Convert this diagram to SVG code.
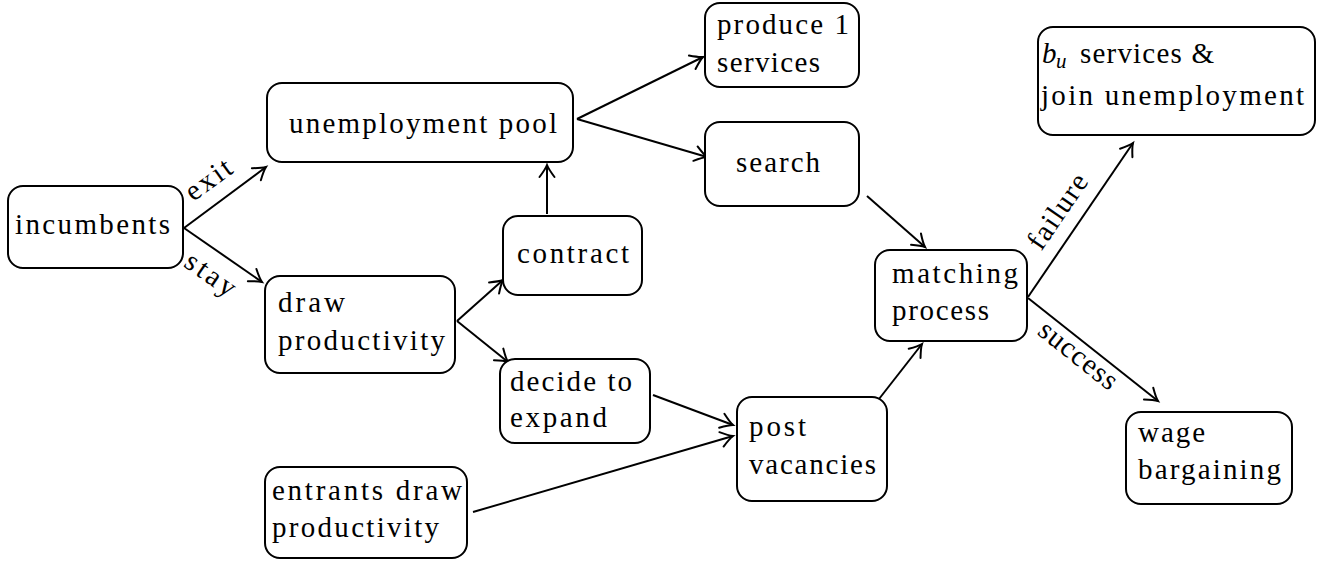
<svg xmlns="http://www.w3.org/2000/svg" width="1331" height="562" viewBox="0 0 1331 562" font-family="Liberation Serif, DejaVu Serif, serif">
<style>
text{font-family:"Liberation Serif","DejaVu Serif",serif}
.t{font-size:29px;fill:#000}
.box{fill:#fff;stroke:#000;stroke-width:2}
.e{stroke:#000;stroke-width:2;fill:none;marker-end:url(#arr)}
</style>
<defs>
<marker id="arr" markerUnits="userSpaceOnUse" markerWidth="20" markerHeight="20" viewBox="-15 -10 20 20" refX="0" refY="0" orient="auto" overflow="visible">
<path d="M-12,-7.5 Q-4,-1.5 0,0 Q-4,1.5 -12,7.5" fill="none" stroke="#000" stroke-width="2" stroke-linecap="round"/>
</marker>
</defs>
<rect width="1331" height="562" fill="#fff"/>
<g id="connectors">
<line class="e" x1="184" y1="228" x2="266" y2="167"/>
<line class="e" x1="184" y1="228" x2="262" y2="282"/>
<line class="e" x1="577" y1="119" x2="703" y2="57"/>
<line class="e" x1="577" y1="119" x2="707" y2="157"/>
<line class="e" x1="547" y1="214" x2="547" y2="165"/>
<line class="e" x1="457" y1="321" x2="503" y2="280"/>
<line class="e" x1="457" y1="321" x2="508" y2="362"/>
<line class="e" x1="867" y1="196" x2="925" y2="247"/>
<line class="e" x1="653" y1="395" x2="733" y2="425"/>
<line class="e" x1="473" y1="512" x2="733" y2="436"/>
<line class="e" x1="879" y1="399" x2="922" y2="344"/>
<line class="e" x1="1028" y1="297" x2="1133" y2="143"/>
<line class="e" x1="1028" y1="298" x2="1158" y2="401"/>
<text class="t" transform="translate(208,179) rotate(-36)" text-anchor="middle" y="10" textLength="51">exit</text>
<text class="t" transform="translate(209,277) rotate(35)" text-anchor="middle" y="6" textLength="56">stay</text>
<text class="t" transform="translate(1057,211) rotate(-55.7)" text-anchor="middle" y="10" textLength="85">failure</text>
<text class="t" transform="translate(1077,357) rotate(38.4)" text-anchor="middle" y="7" textLength="93">success</text>
</g>
<g id="incumbents">
<rect class="box" x="8" y="186" width="175" height="82" rx="15"/>
<text class="t" x="15" y="234" textLength="155">incumbents</text>
</g>
<g id="unemployment-pool">
<rect class="box" x="267" y="83" width="306" height="79" rx="15"/>
<text class="t" x="289" y="133" textLength="268">unemployment pool</text>
</g>
<g id="produce">
<rect class="box" x="705" y="3" width="154" height="84" rx="15"/>
<text class="t" x="717" y="34" textLength="132">produce 1</text>
<text class="t" x="717" y="72" textLength="103">services</text>
</g>
<g id="search">
<rect class="box" x="705" y="122" width="154" height="84" rx="15"/>
<text class="t" x="736" y="172" textLength="84">search</text>
</g>
<g id="contract">
<rect class="box" x="503" y="216" width="139" height="79" rx="15"/>
<text class="t" x="517" y="263" textLength="112">contract</text>
</g>
<g id="draw-productivity">
<rect class="box" x="265" y="276" width="190" height="97" rx="15"/>
<text class="t" x="278" y="312" textLength="67">draw</text>
<text class="t" x="278" y="350" textLength="167">productivity</text>
</g>
<g id="decide-to-expand">
<rect class="box" x="500" y="359" width="150" height="84" rx="15"/>
<text class="t" x="510" y="391" textLength="122">decide to</text>
<text class="t" x="510" y="427" textLength="97">expand</text>
</g>
<g id="entrants">
<rect class="box" x="265" y="467" width="202" height="91" rx="15"/>
<text class="t" x="272" y="500" textLength="190">entrants draw</text>
<text class="t" x="272" y="537" textLength="167">productivity</text>
</g>
<g id="post-vacancies">
<rect class="box" x="737" y="397" width="150" height="104" rx="15"/>
<text class="t" x="749" y="436" textLength="57">post</text>
<text class="t" x="749" y="474" textLength="127">vacancies</text>
</g>
<g id="matching-process">
<rect class="box" x="875" y="250" width="152" height="91" rx="15"/>
<text class="t" x="892" y="283" textLength="126">matching</text>
<text class="t" x="892" y="320" textLength="97">process</text>
</g>
<g id="bu-services">
<rect class="box" x="1038" y="27" width="277" height="108" rx="15"/>
<text class="t" x="1042" y="63"><tspan font-style="italic">b</tspan><tspan x="1056" y="68" font-size="21" font-style="italic">u</tspan><tspan x="1080" y="63" textLength="134">services &amp;</tspan></text>
<text class="t" x="1041" y="105" textLength="263">join unemployment</text>
</g>
<g id="wage-bargaining">
<rect class="box" x="1126" y="412" width="166" height="92" rx="15"/>
<text class="t" x="1138" y="442" textLength="67">wage</text>
<text class="t" x="1138" y="479" textLength="143">bargaining</text>
</g>
</svg>
